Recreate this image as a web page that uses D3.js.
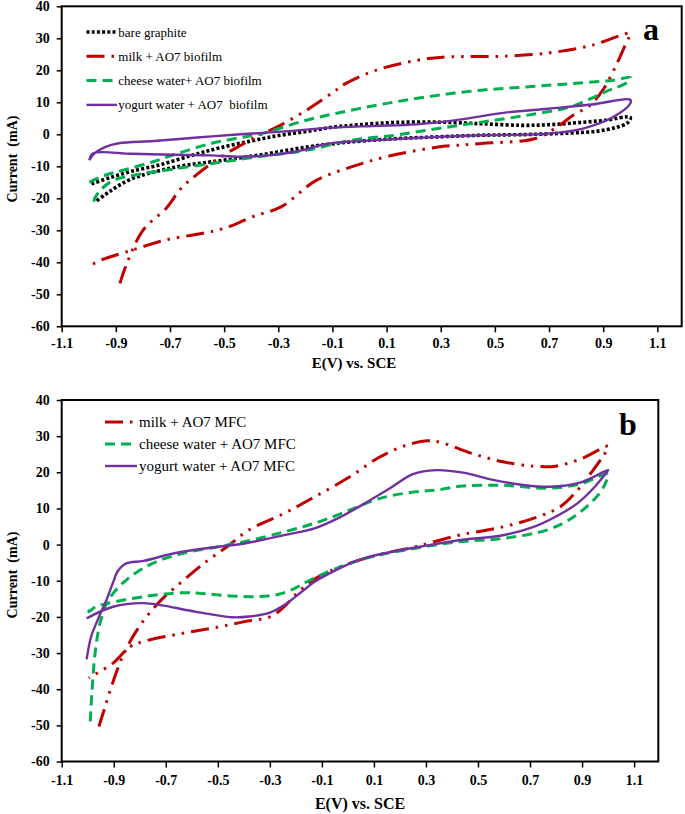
<!DOCTYPE html>
<html><head><meta charset="utf-8">
<script src="https://cdn.jsdelivr.net/npm/d3@7/dist/d3.min.js"></script>
<style>body{margin:0;background:#fff}</style>
</head><body>
<svg id="chart" width="685" height="814"></svg>
<script>
// ---------- data ----------
const xTickValues = [-1.1,-0.9,-0.7,-0.5,-0.3,-0.1,0.1,0.3,0.5,0.7,0.9,1.1];
const yTickValues = [-60,-50,-40,-30,-20,-10,0,10,20,30,40];
const xTitle = "E(V) vs. SCE";
const yTitle = "Current  (mA)";

const aLegend = ["bare graphite","milk + AO7 biofilm","cheese water+ AO7 biofilm","yogurt water + AO7  biofilm"];
const bLegend = ["milk + AO7 MFC","cheese water + AO7 MFC","yogurt water + AO7 MFC"];

// panel a  [E (V), I (mA)]
const aBare = [[-0.99,-15.5],[-0.92,-13.5],[-0.844,-11.6],[-0.74,-9.6],[-0.62,-6.6],[-0.52,-4.3],[-0.4,-2.1],[-0.3,-0.4],[-0.196,0.9],[-0.1,2.2],[0,3],[0.13,3.7],[0.29,3.8],[0.45,3.3],[0.6,2.8],[0.7,3],[0.8,3.6],[0.9,4.3],[1.0,5.3],
  [0.99,3.6],[0.95,2.2],[0.88,1.0],[0.777,0.4],[0.6,-0.1],[0.45,-0.3],[0.29,-0.8],[0.13,-1.4],[-0.033,-2.4],[-0.196,-4],[-0.357,-6.3],[-0.52,-8.3],[-0.682,-10.3],[-0.844,-14],[-0.925,-18],[-0.974,-21]];
const aMilk = [[-0.885,-46.6],[-0.86,-40.5],[-0.8,-30],[-0.713,-23],[-0.66,-17],[-0.6,-12.5],[-0.52,-7.5],[-0.44,-3.5],[-0.37,-0.3],[-0.3,2.5],[-0.196,7.5],[-0.1,13],[-0.05,15.9],[0.06,20],[0.21,23.1],[0.307,24.1],[0.45,24.3],[0.533,24.4],[0.696,25.4],[0.858,27.8],[1.0,31.5],
  [0.987,29],[0.95,22],[0.9,14],[0.85,9],[0.79,6],[0.73,2.3],[0.65,-1.3],[0.45,-2.9],[0.29,-4],[0.1,-7],[-0.03,-10.2],[-0.16,-14.4],[-0.29,-22.7],[-0.39,-25.6],[-0.5,-29.4],[-0.585,-31],[-0.715,-33],[-0.844,-36.3],[-0.957,-39.4],[-0.997,-41.2]];
const aCheese = [[-0.998,-15],[-0.94,-12.8],[-0.863,-11],[-0.76,-8.5],[-0.682,-6.3],[-0.555,-3],[-0.45,-1.2],[-0.357,0.3],[-0.196,4.4],[-0.033,7.5],[0.13,10.1],[0.29,12.2],[0.45,13.8],[0.615,14.8],[0.777,15.8],[0.937,16.9],[1.0,17.7],
  [0.99,16.3],[0.906,13.2],[0.85,11],[0.777,8.5],[0.615,5.9],[0.45,3.8],[0.29,1.8],[0.13,-0.3],[-0.033,-1.9],[-0.196,-5],[-0.357,-6.8],[-0.52,-8.8],[-0.682,-10.8],[-0.812,-12.5],[-0.909,-14.4],[-0.957,-17.5],[-0.98,-20.6],[-0.975,-21.5]];
const aYogurt = [[-0.998,-8.1],[-0.98,-6],[-0.94,-4],[-0.89,-2.8],[-0.76,-2.1],[-0.6,-1],[-0.44,0],[-0.277,0.9],[-0.115,2],[0.048,2.6],[0.21,3.1],[0.37,4.6],[0.533,6.7],[0.696,8],[0.858,9.3],[1.0,10.8],
  [1.0,9.6],[0.937,5.4],[0.825,1.8],[0.696,0.2],[0.45,-0.3],[0.29,-0.8],[0.048,-1.9],[-0.115,-2.9],[-0.228,-5.3],[-0.325,-6.5],[-0.44,-7.0],[-0.552,-6.6],[-0.682,-6.4],[-0.844,-6.1],[-0.985,-6.0],[-0.998,-8.1]];

// panel b
const bMilk = [[-0.957,-50.3],[-0.936,-45.5],[-0.903,-38],[-0.86,-30],[-0.8,-22.5],[-0.72,-15.5],[-0.634,-10],[-0.55,-5],[-0.465,-0.6],[-0.381,4],[-0.246,8.6],[-0.128,13.2],[0.006,18.7],[0.124,24.3],[0.225,27.5],[0.309,28.7],[0.36,28.2],[0.478,25.2],[0.596,22.9],[0.714,21.7],[0.798,21.7],[0.899,23.8],[1.0,27.2],
  [0.983,24.7],[0.933,19.7],[0.882,15],[0.815,10.4],[0.73,7.7],[0.596,4.9],[0.427,2.6],[0.259,-0.6],[0.141,-2.4],[0.006,-5.2],[-0.128,-9.5],[-0.196,-13.5],[-0.25,-17.5],[-0.3,-20],[-0.398,-21.3],[-0.499,-22.8],[-0.634,-24.5],[-0.785,-26.8],[-0.836,-28.2],[-0.903,-32.8],[-0.953,-35.1],[-0.987,-36.5],[-0.996,-36.9]];
const bCheese = [[-0.99,-48.9],[-0.984,-41],[-0.97,-29],[-0.95,-21],[-0.92,-15.3],[-0.852,-9.8],[-0.751,-5.2],[-0.634,-2.4],[-0.499,-0.6],[-0.398,0.8],[-0.246,3.5],[-0.111,6.3],[0.006,9.5],[0.124,12.8],[0.259,14.6],[0.34,15.1],[0.443,16.2],[0.596,16.4],[0.776,15.6],[0.899,16.9],[1.0,19.5],
  [0.99,17],[0.966,14.1],[0.916,10.4],[0.849,6.8],[0.764,4],[0.596,1.7],[0.427,0.8],[0.259,-1],[0.09,-3.4],[-0.027,-6.1],[-0.15,-10],[-0.21,-12.3],[-0.27,-13.8],[-0.35,-14.4],[-0.45,-14.2],[-0.55,-13.6],[-0.634,-13.3],[-0.785,-14.4],[-0.92,-16.2],[-0.97,-17.2],[-0.996,-18.6],[-0.99,-17.5]];
const bYogurt = [[-1.004,-31.7],[-0.987,-25.5],[-0.962,-20.9],[-0.928,-15.3],[-0.9,-10],[-0.886,-7.5],[-0.852,-5.2],[-0.785,-4.5],[-0.667,-2.4],[-0.499,-0.6],[-0.398,0.3],[-0.246,2.6],[-0.128,4.5],[-0.027,7.7],[0.074,11.8],[0.16,15.5],[0.25,19.5],[0.34,20.6],[0.443,19.9],[0.558,17.9],[0.674,16.5],[0.776,16],[0.899,17.3],[1.0,20.6],
  [0.991,19.7],[0.949,16],[0.882,11.4],[0.798,7.7],[0.714,4.9],[0.596,2.6],[0.427,1.2],[0.276,-0.6],[0.141,-2.4],[0.04,-4.3],[-0.044,-7],[-0.128,-10.3],[-0.18,-13.2],[-0.24,-16.5],[-0.3,-18.8],[-0.38,-19.9],[-0.448,-20.1],[-0.583,-18.6],[-0.785,-16.2],[-0.903,-17.2],[-1.004,-20.4]];

// ---------- styles ----------
const styles = {
  bare:   {color:"#000000", width:3.6, dash:"3,2.2"},
  milk:   {color:"#C00000", width:3,   dash:"18,7,2.5,7,2.5,7"},
  cheese: {color:"#00B050", width:3,   dash:"10,6"},
  yogurt: {color:"#7030A0", width:2.4, dash:null}
};
const FONT = "'Liberation Serif','Times New Roman',serif";

const svg = d3.select("#chart");

function drawPanel(p) {
  const x = d3.scaleLinear().domain([-1.1, p.xMax]).range([p.left, p.right]);
  const y = d3.scaleLinear().domain([-60, 40]).range([p.bottom, p.top]);
  const g = svg.append("g");

  const fmt = d => d.toFixed(1);
  const xAxis = g.append("g").attr("transform", `translate(0,${p.bottom})`)
    .call(d3.axisBottom(x).tickValues(xTickValues).tickFormat(fmt).tickSize(6).tickSizeOuter(0).tickPadding(p.xPad));
  const yAxis = g.append("g").attr("transform", `translate(${p.left},0)`)
    .call(d3.axisLeft(y).tickValues(yTickValues).tickFormat(d => String(d)).tickSize(5).tickSizeOuter(0).tickPadding(7));
  [xAxis, yAxis].forEach(a => {
    a.selectAll("text").attr("font-family", FONT).attr("font-weight", "bold").attr("font-size", 14).attr("fill", "#000");
    a.selectAll("line").attr("stroke", "#000").attr("stroke-width", 1.5);
    a.select(".domain").attr("stroke", "none");
  });

  // frame
  g.append("rect").attr("x", p.left).attr("y", p.top)
    .attr("width", p.right - p.left).attr("height", p.bottom - p.top)
    .attr("fill", "none").attr("stroke", "#000").attr("stroke-width", 2);

  const line = d3.line().x(d => x(d[0])).y(d => y(d[1])).curve(d3.curveCatmullRom.alpha(0.5));
  p.series.forEach(s => {
    const st = styles[s.key];
    g.append("path").datum(s.data).attr("d", line)
      .attr("fill", "none").attr("stroke", st.color).attr("stroke-width", st.width)
      .attr("stroke-dasharray", st.dash).attr("stroke-linejoin", "round");
  });

  // legend
  p.series.forEach((s, i) => {
    const st = styles[s.key];
    const ly = p.legY + i * p.legStep;
    g.append("line").attr("x1", p.legX1).attr("x2", p.legX2).attr("y1", ly).attr("y2", ly)
      .attr("stroke", st.color).attr("stroke-width", st.width).attr("stroke-dasharray", st.dash);
    g.append("text").attr("x", p.legTX).attr("y", ly).attr("dy", "0.35em")
      .attr("font-family", FONT).attr("font-size", p.legFont).style("white-space", "pre")
      .text(p.legend[i]);
  });

  // titles
  g.append("text").attr("x", p.xTitleX).attr("y", p.xTitleY).attr("text-anchor", "middle")
    .attr("font-family", FONT).attr("font-weight", "bold").attr("font-size", p.xTitleSize).text(xTitle);
  g.append("text").attr("transform", `translate(${p.yTitleX},${p.yTitleY}) rotate(-90)`)
    .attr("text-anchor", "middle").attr("dy", "0.35em").style("white-space", "pre")
    .attr("font-family", FONT).attr("font-weight", "bold").attr("font-size", 14).text(yTitle);
  g.append("text").attr("x", p.tagX).attr("y", p.tagY).attr("text-anchor", "middle")
    .attr("font-family", FONT).attr("font-weight", "bold").attr("font-size", 32).text(p.tag);
}

drawPanel({
  left: 61.7, right: 681.7, top: 6.3, bottom: 326.3, xMax: 1.19, xPad: 6,
  series: [{key:"bare", data:aBare},{key:"milk", data:aMilk},{key:"cheese", data:aCheese},{key:"yogurt", data:aYogurt}],
  legend: aLegend, legY: 32, legStep: 24.3, legX1: 86.5, legX2: 117, legTX: 118.3, legFont: 13,
  xTitleX: 354, xTitleY: 368, xTitleSize: 15, yTitleX: 12, yTitleY: 159, tag: "a", tagX: 651, tagY: 40
});
drawPanel({
  left: 61.7, right: 658.3, top: 400, bottom: 761.5, xMax: 1.193, xPad: 7.5,
  series: [{key:"milk", data:bMilk},{key:"cheese", data:bCheese},{key:"yogurt", data:bYogurt}],
  legend: bLegend, legY: 422, legStep: 22, legX1: 105, legX2: 137, legTX: 139, legFont: 15,
  xTitleX: 360, xTitleY: 809, xTitleSize: 16, yTitleX: 12, yTitleY: 575, tag: "b", tagX: 628, tagY: 435
});
</script>
</body></html>
